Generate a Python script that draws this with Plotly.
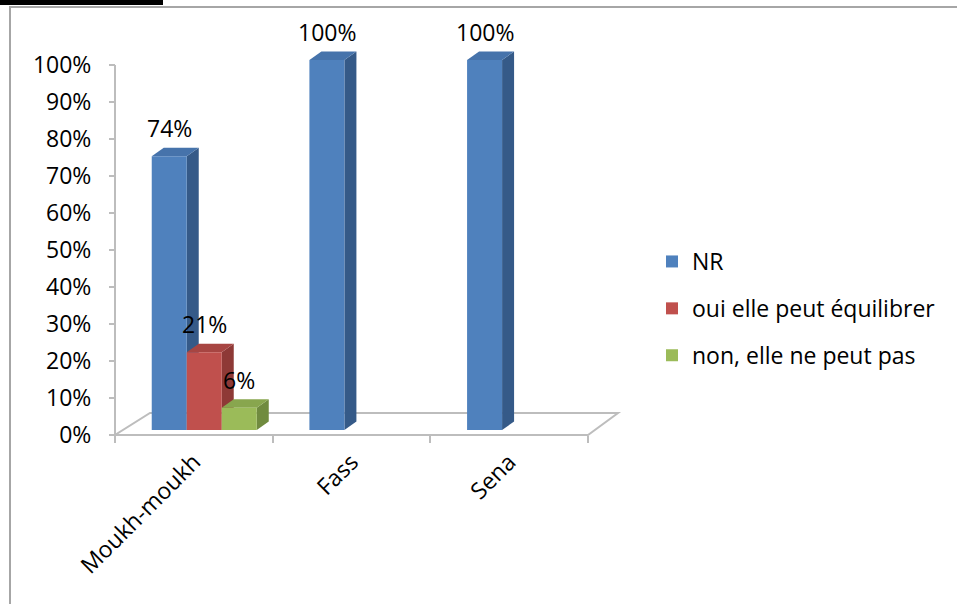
import plotly.graph_objects as go

# ---- data -------------------------------------------------------------
categories = ["Moukh-moukh", "Fass", "Sena"]
series_names = ["NR", "oui elle peut équilibrer", "non, elle ne peut pas"]
nr_values = [0.74, 1.00, 1.00]
oui_values = [0.21, None, None]
non_values = [0.06, None, None]
y_tick_values = [0.0, 0.1, 0.2, 0.3, 0.4, 0.5, 0.6, 0.7, 0.8, 0.9, 1.0]

series_values = [nr_values, oui_values, non_values]
front_colors = ["#4F81BD", "#C0504D", "#9BBB59"]
side_colors = ["#355A88", "#8E3936", "#708B3F"]
top_colors = ["#4673AB", "#A74542", "#88A64E"]

# ---- geometry ---------------------------------------------------------
W, H = 957, 604
ML, MR, MT, MB = 95, 317, 5, 154
PW, PH = W - ML - MR, H - MT - MB

X_PER = 157.67           # px per category
Y_PER = 370.0            # px per 100 %
x_lo = -0.5 - (115 - ML) / X_PER
x_hi = x_lo + PW / X_PER
wall_lo = -(H - MB - 435) / Y_PER
wall_hi = wall_lo + PH / Y_PER
bar_lo = -(H - MB - 430) / Y_PER
bar_hi = bar_lo + PH / Y_PER

bar_offsets = [-0.267, -0.045, 0.177]
bar_width = 0.222
DX = 12 / X_PER          # depth shift of the 3-D faces
DY = 8.5 / Y_PER

font = "Open Sans"
FS = 23


def px_x(p):
    return (p - ML) / PW


def px_y(p):
    return (H - MB - p) / PH


fig = go.Figure()
shapes = []

# floor of the 3-D plot
floor_back = (435 - 413) / Y_PER
shapes.append(dict(
    type="path", xref="x", yref="y", layer="below",
    path=f"M -0.5,0 L 2.5,0 L {2.5 + 30 / X_PER},{floor_back} "
         f"L {-0.5 + 35 / X_PER},{floor_back} Z",
    fillcolor="white", line=dict(color="#BDBDBD", width=2)))
# vertical axis line
shapes.append(dict(type="line", xref="x", yref="y", layer="below",
                   x0=-0.5, x1=-0.5, y0=0, y1=1,
                   line=dict(color="#BDBDBD", width=2)))

annotations = []
for i, (name, vals) in enumerate(zip(series_names, series_values)):
    fig.add_trace(go.Bar(
        x=list(range(len(categories))), y=vals, name=name,
        offset=bar_offsets[i], width=bar_width,
        marker=dict(color=front_colors[i], line=dict(width=0)),
        yaxis="y2", hoverinfo="skip", legendgroup=name))
    for j, v in enumerate(vals):
        if v is None:
            continue
        x0 = j + bar_offsets[i]
        x1 = x0 + bar_width
        shapes.append(dict(
            type="path", xref="x", yref="y2", layer="below",
            path=f"M {x1},0 L {x1},{v} L {x1 + DX},{v + DY} L {x1 + DX},{DY} Z",
            fillcolor=side_colors[i], line=dict(width=0)))
        shapes.append(dict(
            type="path", xref="x", yref="y2", layer="below",
            path=f"M {x0},{v} L {x1},{v} L {x1 + DX},{v + DY} L {x0 + DX},{v + DY} Z",
            fillcolor=top_colors[i], line=dict(width=0)))
        annotations.append(dict(
            x=(x0 + x1) / 2, y=v, xref="x", yref="y2",
            text=f"{round(v * 100)}%", showarrow=False,
            yanchor="middle", yshift=28,
            font=dict(family=font, size=FS, color="black")))

# outer chart frame and the underline of the heading above it
shapes.append(dict(type="rect", xref="paper", yref="paper", layer="above",
                   x0=px_x(10), x1=px_x(970), y0=px_y(7), y1=px_y(620),
                   line=dict(color="#A6A6A6", width=2), fillcolor="rgba(0,0,0,0)"))
shapes.append(dict(type="rect", xref="paper", yref="paper", layer="above",
                   x0=px_x(-5), x1=px_x(163), y0=px_y(-5), y1=px_y(5),
                   line=dict(width=0), fillcolor="black"))

fig.update_layout(
    width=W, height=H,
    margin=dict(l=ML, r=MR, t=MT, b=MB),
    paper_bgcolor="white", plot_bgcolor="white",
    barmode="overlay",
    font=dict(family=font, size=FS, color="black"),
    xaxis=dict(
        range=[x_lo, x_hi], anchor="free", position=(H - MB - 435) / PH,
        tickmode="array", tickvals=list(range(len(categories))), ticktext=categories,
        tickangle=-45, ticks="", showline=False, showgrid=False, zeroline=False,
        ticklabelstandoff=8,
        minor=dict(tickmode="array", tickvals=[-0.5, 0.5, 1.5, 2.5], ticks="outside",
                   ticklen=7, tickwidth=2, tickcolor="#BDBDBD", showgrid=False),
        tickfont=dict(family=font, size=FS, color="black")),
    yaxis=dict(
        range=[wall_lo, wall_hi], anchor="free", position=(115 - ML) / PW,
        tickmode="array", tickvals=y_tick_values, tickformat=".0%",
        ticks="outside", ticklen=6, tickwidth=2, tickcolor="#BDBDBD",
        ticklabelstandoff=13,
        showline=False, showgrid=False, zeroline=False,
        tickfont=dict(family=font, size=FS, color="black")),
    yaxis2=dict(range=[bar_lo, bar_hi], overlaying="y", visible=False),
    legend=dict(x=px_x(652), y=px_y(240), xanchor="left", yanchor="top",
                font=dict(family=font, size=FS, color="black"),
                tracegroupgap=14, traceorder="grouped",
                bgcolor="rgba(0,0,0,0)"),
    shapes=shapes, annotations=annotations,
    showlegend=True,
)

fig.write_html("out.html")
